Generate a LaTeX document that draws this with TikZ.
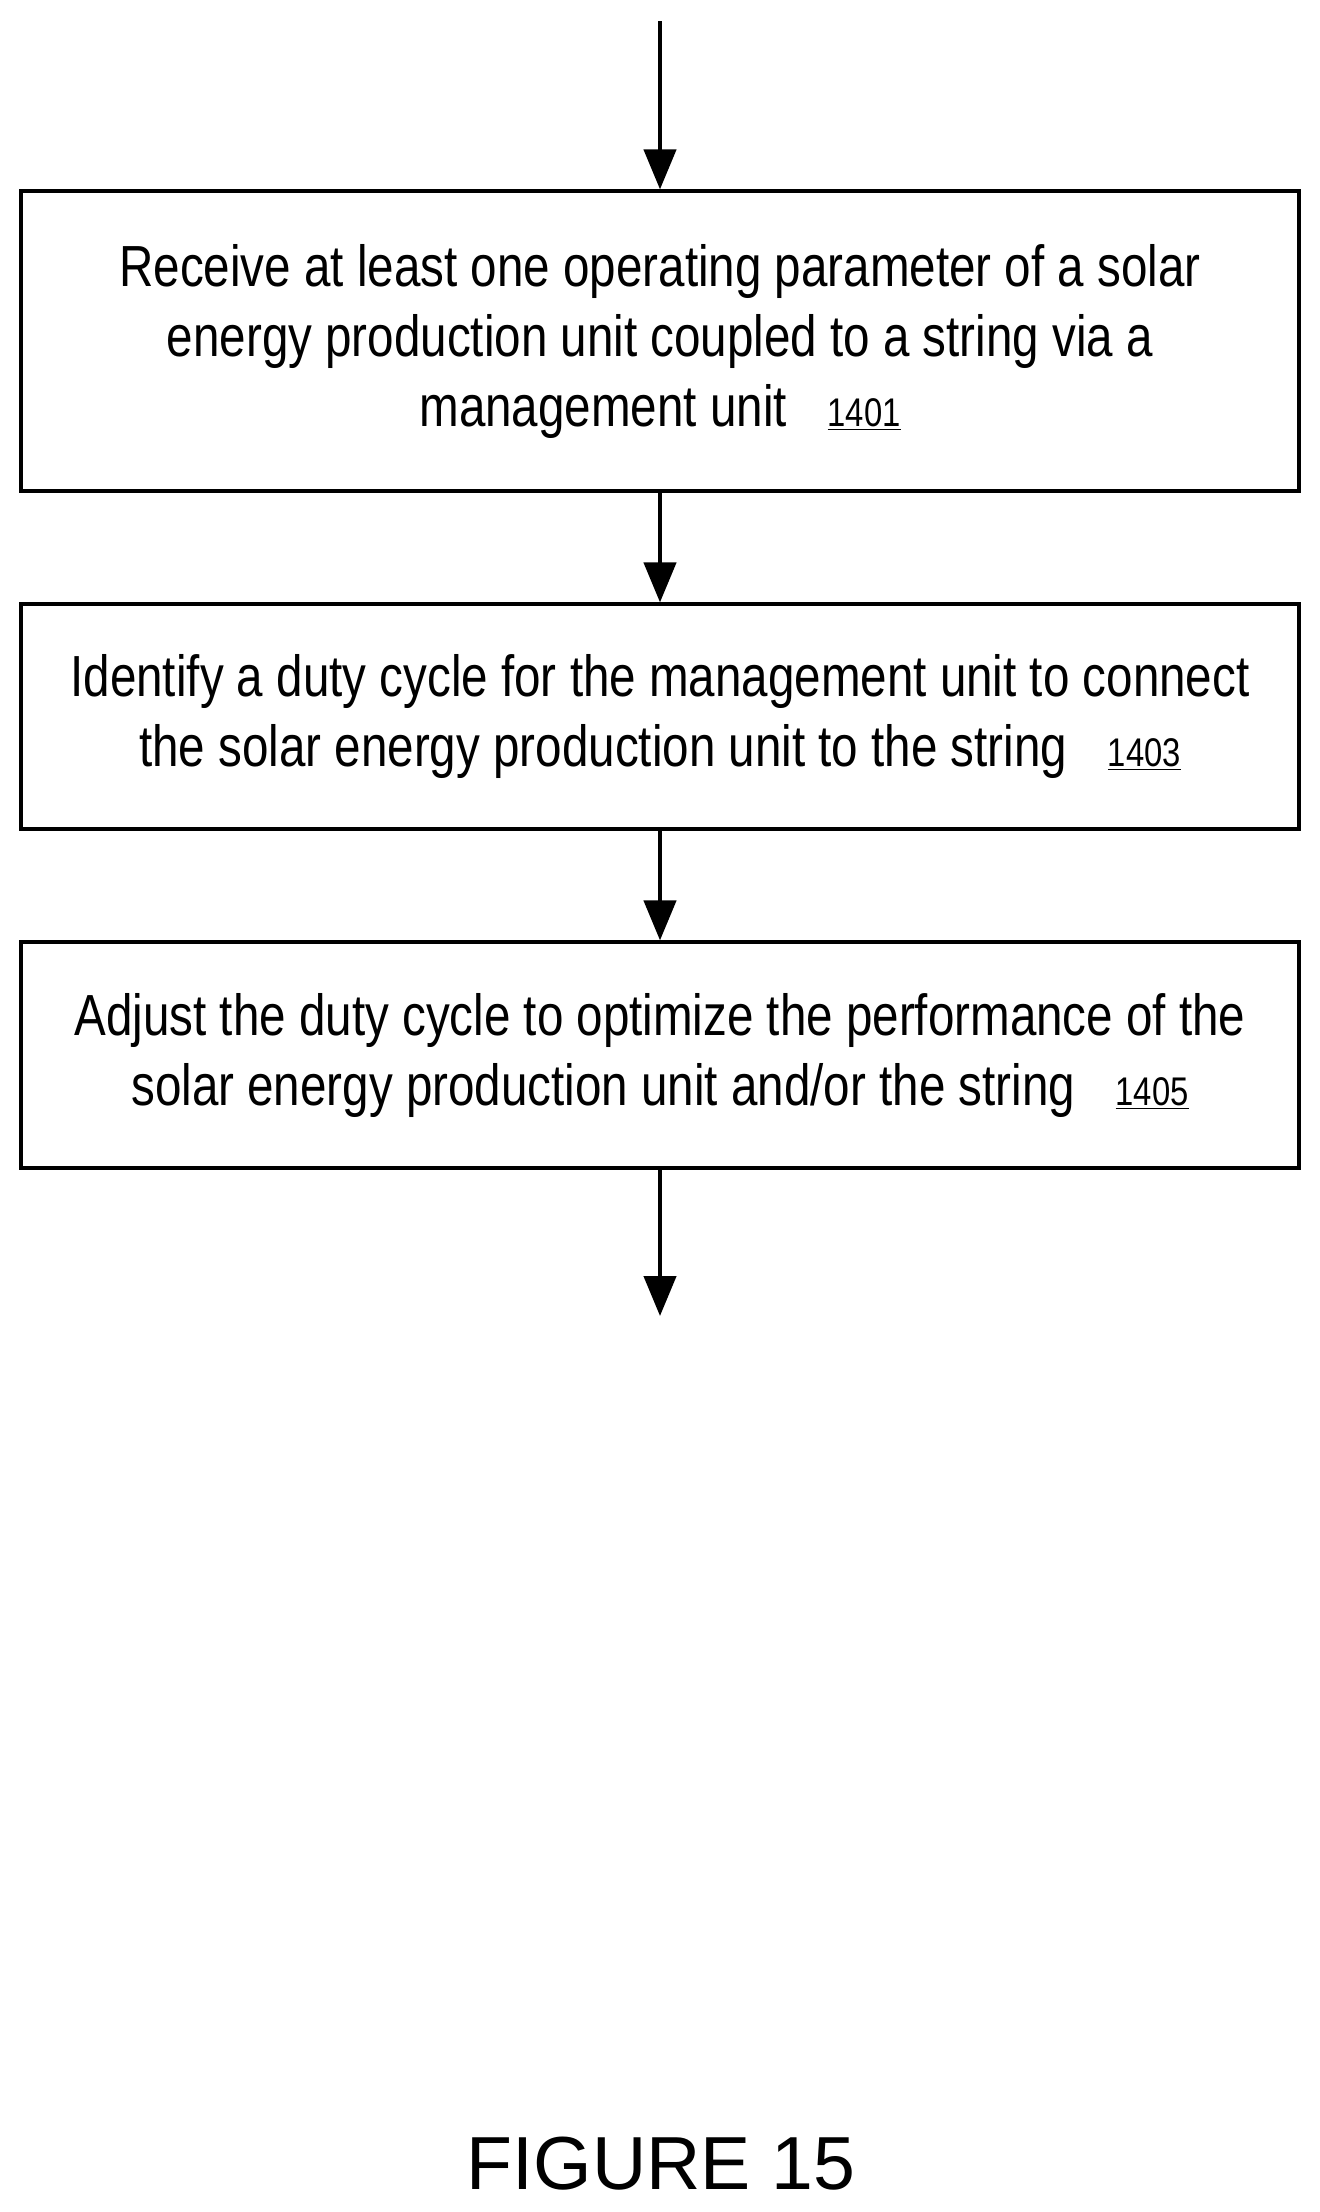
\documentclass[tikz,border=0pt]{standalone}
\usepackage{fontspec}
\setmainfont{Liberation Sans}
\newfontfamily\narrowf[FakeStretch=0.82]{Liberation Sans}
\usetikzlibrary{arrows.meta}
\newcommand{\refnum}[1]{\hspace{0.7em}{\fontsize{20}{24}\selectfont\underline{#1}}}
\begin{document}
\begin{tikzpicture}[x=0.5pt,y=-0.5pt,
  box/.style={draw,line width=1.6pt,minimum width=639pt,inner sep=0pt,align=center,font=\narrowf\fontsize{29}{35}\selectfont},
  arr/.style={line width=2.2pt,-{Triangle[length=20pt,width=16pt]}}]
\useasboundingbox (0,0) rectangle (1320,2212);
\node[box,minimum height=150pt] (b1) at (660,341) {Receive at least one operating parameter of a solar\\energy production unit coupled to a string via a\\management unit\refnum{1401}};
\node[box,minimum height=112.5pt] (b2) at (660,716.5) {Identify a duty cycle for the management unit to connect\\the solar energy production unit to the string\refnum{1403}};
\node[box,minimum height=113pt] (b3) at (660,1055) {Adjust the duty cycle to optimize the performance of the\\solar energy production unit and/or the string\refnum{1405}};
\coordinate (top) at (660,21);
\coordinate (bot) at (660,1316);
\draw[arr] (top) -- (b1.north);
\draw[arr] (b1.south) -- (b2.north);
\draw[arr] (b2.south) -- (b3.north);
\draw[arr] (b3.south) -- (bot);
\node[font=\fontsize{37.6}{44}\selectfont] (fig) at (661,2164) {FIGURE 15};
\end{tikzpicture}
\end{document}
